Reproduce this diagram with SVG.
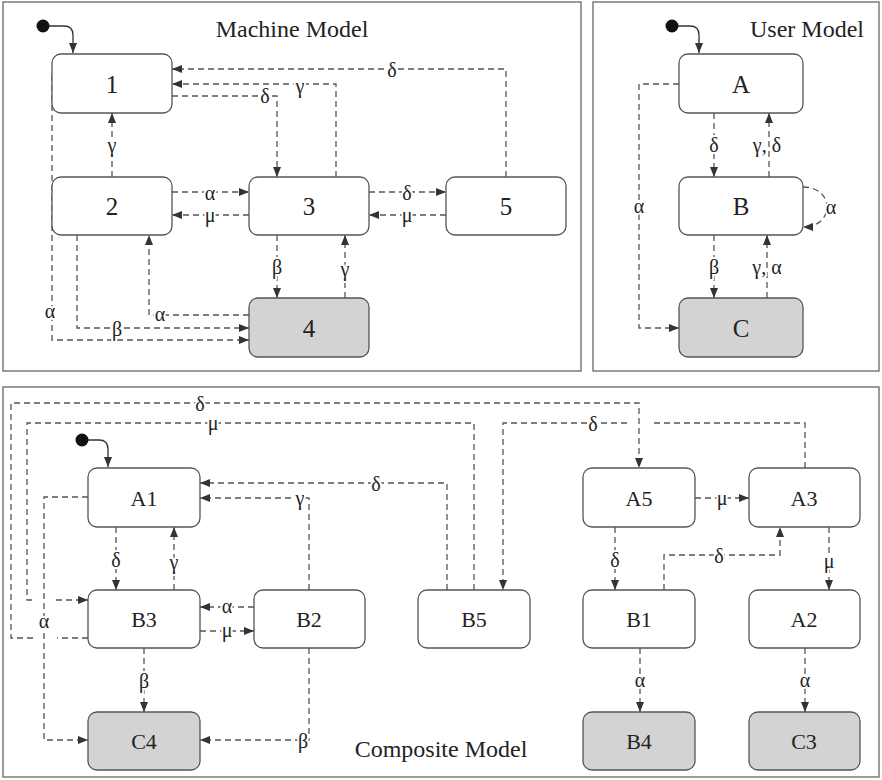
<svg xmlns="http://www.w3.org/2000/svg" width="882" height="780" viewBox="0 0 882 780" font-family="Liberation Serif, DejaVu Serif, serif">
<style>
.frame{fill:#fff;stroke:#666;stroke-width:1.3}
.node{fill:#fff;stroke:#555;stroke-width:1.3}
.final{fill:#d3d3d3;stroke:#555;stroke-width:1.3}
.nl{font-size:25px;fill:#222;text-anchor:middle}
.cl{font-size:22px;fill:#222;text-anchor:middle}
.title{font-size:24px;fill:#222;text-anchor:middle}
.e{fill:none;stroke:#555;stroke-width:1.3;stroke-dasharray:6 4;marker-end:url(#ah)}
.g{fill:none;stroke:#555;stroke-width:1.3;stroke-dasharray:6 4}
.init{fill:none;stroke:#333;stroke-width:1.3;marker-end:url(#ah)}
.el{font-size:20px;fill:#222;text-anchor:middle;stroke:#fff;stroke-width:4;paint-order:stroke;stroke-linejoin:round}
</style>
<defs>
<marker id="ah" markerUnits="userSpaceOnUse" markerWidth="10" markerHeight="8" refX="10" refY="4" orient="auto">
<path d="M0,0 L10,4 L0,8 z" fill="#333" stroke="none"/>
</marker>
</defs>
<rect width="882" height="780" fill="#fff"/>
<rect class="frame" x="3" y="2" width="578" height="369"/>
<rect class="frame" x="593" y="2" width="286" height="369"/>
<rect class="frame" x="3" y="387" width="876" height="390"/>
<text class="title" x="292" y="37" font-family="Liberation Serif">Machine Model</text>
<text class="title" x="807" y="37" font-family="Liberation Serif">User Model</text>
<text class="title" x="441" y="757" font-family="Liberation Serif">Composite Model</text>

<g id="connectors">
<circle cx="43" cy="26" r="6.5" fill="#111"/>
<path class="init" d="M49,26 H64 Q73,26 73,35 V53"/>
<path class="e" d="M506,177 V69 H172"/>
<path class="e" d="M336,177 V84 H172"/>
<path class="e" d="M172,96 H277 V177"/>
<path class="e" d="M112,177 V113"/>
<path class="e" d="M172,192 H249"/>
<path class="e" d="M249,215 H172"/>
<path class="e" d="M369,192 H446"/>
<path class="e" d="M446,215 H369"/>
<path class="e" d="M277,235 V298"/>
<path class="e" d="M345,298 V235"/>
<path class="e" d="M249,315 H149 V235"/>
<path class="e" d="M77,235 V328 H249"/>
<path class="e" d="M52,75 V340 H249"/>
<circle cx="672" cy="26" r="6.5" fill="#111"/>
<path class="init" d="M678,26 H690 Q699,26 699,35 V53"/>
<path class="e" d="M714,113 V177"/>
<path class="e" d="M769,177 V113"/>
<path class="e" d="M714,235 V298"/>
<path class="e" d="M767,298 V235"/>
<path class="e" d="M679,84 H639 V328 H679"/>
<path class="e" d="M803,187 C835,187 835,227 803,227"/>
<circle cx="82" cy="440" r="6.5" fill="#111"/>
<path class="init" d="M88,440 H99 Q108,440 108,449 V467"/>
<path class="e" d="M116,527 V590"/>
<path class="e" d="M174,590 V527"/>
<path class="e" d="M144,648 V712"/>
<path class="e" d="M254,607 H200"/>
<path class="e" d="M200,631 H254"/>
<path class="e" d="M309,590 V498 H200"/>
<path class="e" d="M447,590 V483 H200"/>
<path class="e" d="M309,648 V740 H200"/>
<path class="e" d="M88,497 H44 V740 H88"/>
<path class="g" d="M474,590 V423 H27 V600 H34"/>
<path class="e" d="M56,600 H88"/>
<path class="g" d="M88,638 H57"/>
<path class="e" d="M33,638 H11 V403 H639 V468"/>
<path class="g" d="M805,468 V423 H653"/>
<path class="e" d="M627,423 H503 V590"/>
<path class="e" d="M695,498 H749"/>
<path class="e" d="M615,527 V590"/>
<path class="e" d="M664,590 V555 H780 V527"/>
<path class="e" d="M829,527 V590"/>
<path class="e" d="M640,648 V712"/>
<path class="e" d="M805,648 V712"/>
</g>

<g id="edge-labels">
<text class="el" x="392" y="77">δ</text>
<text class="el" x="300" y="93">γ</text>
<text class="el" x="265" y="103">δ</text>
<text class="el" x="112" y="152">γ</text>
<text class="el" x="210" y="200">α</text>
<text class="el" x="210" y="222">μ</text>
<text class="el" x="407" y="200">δ</text>
<text class="el" x="407" y="222">μ</text>
<text class="el" x="277" y="274">β</text>
<text class="el" x="345" y="276">γ</text>
<text class="el" x="160" y="321">α</text>
<text class="el" x="117" y="336">β</text>
<text class="el" x="50" y="318">α</text>
<text class="el" x="714" y="152">δ</text>
<text class="el" x="767" y="152">γ, δ</text>
<text class="el" x="714" y="274">β</text>
<text class="el" x="767" y="274">γ, α</text>
<text class="el" x="639" y="213">α</text>
<text class="el" x="831" y="214">α</text>
<text class="el" x="200" y="411">δ</text>
<text class="el" x="213" y="430">μ</text>
<text class="el" x="593" y="431">δ</text>
<text class="el" x="376" y="491">δ</text>
<text class="el" x="300" y="505">γ</text>
<text class="el" x="116" y="567">δ</text>
<text class="el" x="174" y="569">γ</text>
<text class="el" x="227" y="613">α</text>
<text class="el" x="227" y="637">μ</text>
<text class="el" x="44" y="628">α</text>
<text class="el" x="144" y="688">β</text>
<text class="el" x="303" y="748">β</text>
<text class="el" x="722" y="505">μ</text>
<text class="el" x="615" y="567">δ</text>
<text class="el" x="719" y="563">δ</text>
<text class="el" x="829" y="568">μ</text>
<text class="el" x="640" y="687">α</text>
<text class="el" x="805" y="687">α</text>
</g>

<g id="m1"><rect class="node" x="52" y="54" width="120" height="59" rx="9"/><text class="nl" x="112" y="93">1</text></g>
<g id="m2"><rect class="node" x="52" y="177" width="120" height="58" rx="9"/><text class="nl" x="112" y="215">2</text></g>
<g id="m3"><rect class="node" x="249" y="177" width="120" height="58" rx="9"/><text class="nl" x="309" y="215">3</text></g>
<g id="m5"><rect class="node" x="446" y="177" width="120" height="58" rx="9"/><text class="nl" x="506" y="215">5</text></g>
<g id="m4"><rect class="final" x="249" y="298" width="120" height="59" rx="9"/><text class="nl" x="309" y="337">4</text></g>

<g id="uA"><rect class="node" x="679" y="54" width="124" height="59" rx="9"/><text class="nl" x="741" y="93">A</text></g>
<g id="uB"><rect class="node" x="679" y="177" width="124" height="58" rx="9"/><text class="nl" x="741" y="215">B</text></g>
<g id="uC"><rect class="final" x="679" y="298" width="124" height="59" rx="9"/><text class="nl" x="741" y="337">C</text></g>

<g id="cA1"><rect class="node" x="88" y="468" width="112" height="59" rx="9"/><text class="cl" x="144" y="506">A1</text></g>
<g id="cB3"><rect class="node" x="88" y="590" width="112" height="58" rx="9"/><text class="cl" x="144" y="627">B3</text></g>
<g id="cC4"><rect class="final" x="88" y="712" width="112" height="58" rx="9"/><text class="cl" x="144" y="749">C4</text></g>
<g id="cB2"><rect class="node" x="254" y="590" width="111" height="58" rx="9"/><text class="cl" x="309" y="627">B2</text></g>
<g id="cB5"><rect class="node" x="418" y="590" width="112" height="58" rx="9"/><text class="cl" x="474" y="627">B5</text></g>
<g id="cA5"><rect class="node" x="583" y="468" width="112" height="59" rx="9"/><text class="cl" x="639" y="506">A5</text></g>
<g id="cA3"><rect class="node" x="749" y="468" width="111" height="59" rx="9"/><text class="cl" x="804" y="506">A3</text></g>
<g id="cB1"><rect class="node" x="583" y="590" width="112" height="58" rx="9"/><text class="cl" x="639" y="627">B1</text></g>
<g id="cA2"><rect class="node" x="749" y="590" width="111" height="58" rx="9"/><text class="cl" x="804" y="627">A2</text></g>
<g id="cB4"><rect class="final" x="583" y="712" width="112" height="58" rx="9"/><text class="cl" x="639" y="749">B4</text></g>
<g id="cC3"><rect class="final" x="749" y="712" width="111" height="58" rx="9"/><text class="cl" x="804" y="749">C3</text></g>
</svg>
